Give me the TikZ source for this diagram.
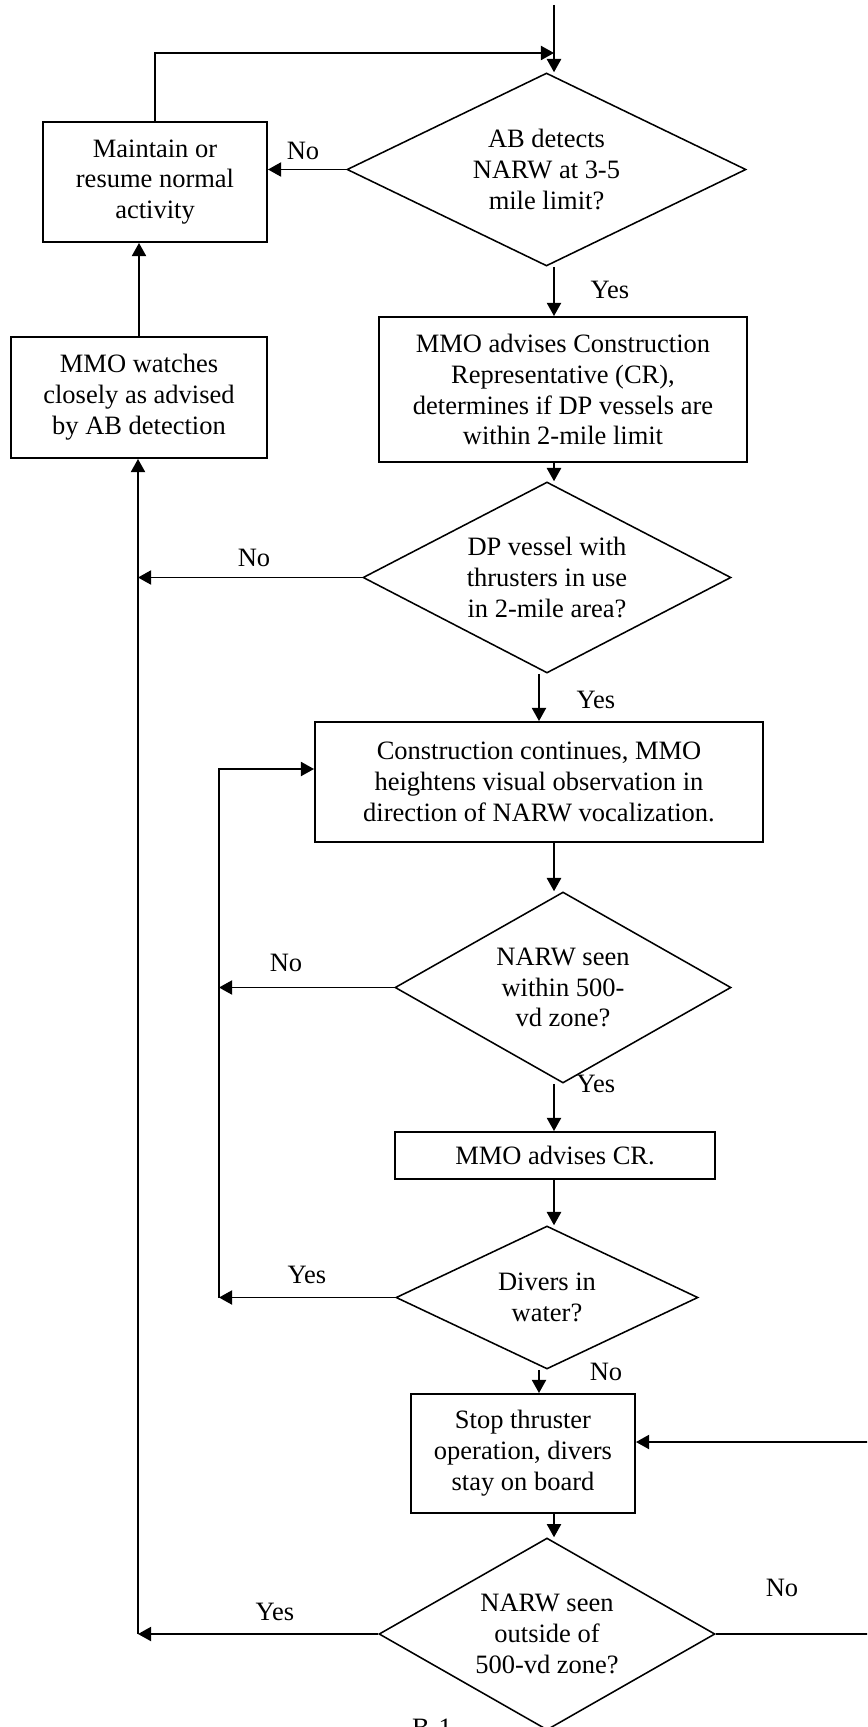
\documentclass[tikz,border=0pt]{standalone}
\usepackage{fontspec}
\setmainfont{Liberation Serif}
\usetikzlibrary{arrows.meta, shapes.geometric}
\tikzset{
  every picture/.style={x=0.453pt, y=-0.453pt, line width=0.7pt},
  box/.style 2 args={draw, line width=0.9pt, align=center, inner sep=2pt, minimum width=#1*0.453pt, minimum height=#2*0.453pt},
  query/.style 2 args={draw, diamond, aspect=1.8, align=center, inner sep=1pt, minimum width=#1*0.453pt, minimum height=#2*0.453pt},
  arrow/.style={-{Triangle[length=6pt, width=6.5pt]}},
  answer/.style={inner sep=0pt},
}

\begin{document}
\begin{tikzpicture}[font=\fontsize{12}{14}\selectfont]
  \clip (0,0) rectangle (867,1727);
  % decisions
  \node[query={399}{193}] (detect) at (546.5,169.5) {AB detects\\NARW at 3-5\\mile limit?};
  \node[query={368}{191}] (thrust) at (547,577.5) {DP vessel with\\thrusters in use\\in 2-mile area?};
  \node[query={336}{191}] (within) at (563,987.5) {NARW seen\\within 500-\\vd zone?};
  \node[query={302}{143}] (divers) at (547,1297.5) {Divers in\\water?};
  \node[query={336}{192}] (outside) at (547,1634) {NARW seen\\outside of\\500-vd zone?};
  % actions
  \node[box={224}{120}] (normal) at (155,182) {Maintain or\\resume normal\\activity};
  \node[box={256}{121}] (watch) at (139,397.5) {MMO watches\\closely as advised\\by AB detection};
  \node[box={368}{145}] (advise) at (563,389.5) {MMO advises Construction\\Representative (CR),\\determines if DP vessels are\\within 2-mile limit};
  \node[box={448}{120}] (observe) at (539,782) {Construction continues, MMO\\heightens visual observation in\\direction of NARW vocalization.};
  \node[box={320}{47}] (advisecr) at (555,1155.5) {MMO advises CR.};
  \node[box={224}{119}] (stop) at (523,1453.5) {Stop thruster\\operation, divers\\stay on board};
  % bends
  \coordinate (entry) at (554,5);
  \coordinate (merge) at (554,53);
  \coordinate (leftbus) at (138,1634);
  \coordinate (midbus) at (219,1297.5);
  \coordinate (midtop) at (219,769);
  \coordinate (rightbus) at (880,1634);
  \coordinate (rightturn) at (880,1442);
  % connectors
  \draw[arrow] (entry) -- (entry |- detect.north);
  \draw[arrow] (normal.north) |- (merge);
  \draw[arrow] (detect.west) -- (detect.west -| normal.east);
  \draw[arrow] (detect.south -| entry) -- (advise.north -| entry);
  \draw[arrow] (watch.north) -- (watch.north |- normal.south);
  \draw[arrow] (advise.south -| entry) -- (thrust.north -| entry);
  \draw[arrow] (thrust.west) -- (thrust.west -| leftbus);
  \draw[arrow] (outside.west) -- (leftbus);
  \draw[arrow] (leftbus) -- (leftbus |- watch.south);
  \draw[arrow] (thrust.south -| observe) -- (observe.north);
  \draw[arrow] (observe.south -| entry) -- (within.north -| entry);
  \draw[arrow] (within.west) -- (within.west -| midbus);
  \draw[arrow] (divers.west) -- (midbus);
  \draw[arrow] (midbus) -- (midtop) -- (midtop -| observe.west);
  \draw[arrow] (within.south -| entry) -- (advisecr.north -| entry);
  \draw[arrow] (advisecr.south -| entry) -- (divers.north -| entry);
  \draw[arrow] (divers.south -| observe) -- (stop.north -| observe);
  \draw[arrow] (stop.south -| entry) -- (outside.north -| entry);
  \draw[arrow] (outside.east) -- (rightbus) -- (rightturn) -- (rightturn -| stop.east);
  % answers
  \node[answer] (no1) at (303,151) {No};
  \node[answer] (yes1) at (610,290) {Yes};
  \node[answer] (no2) at (254,558) {No};
  \node[answer] (yes2) at (596,700) {Yes};
  \node[answer] (no3) at (286,963) {No};
  \node[answer] (yes3) at (596,1084) {Yes};
  \node[answer] (yes4) at (307,1275) {Yes};
  \node[answer] (no4) at (606,1372) {No};
  \node[answer] (yes5) at (275,1612) {Yes};
  \node[answer] (no5) at (782,1588) {No};
  \node[anchor=base] (page) at (432,1736) {B-1};
\end{tikzpicture}
\end{document}
